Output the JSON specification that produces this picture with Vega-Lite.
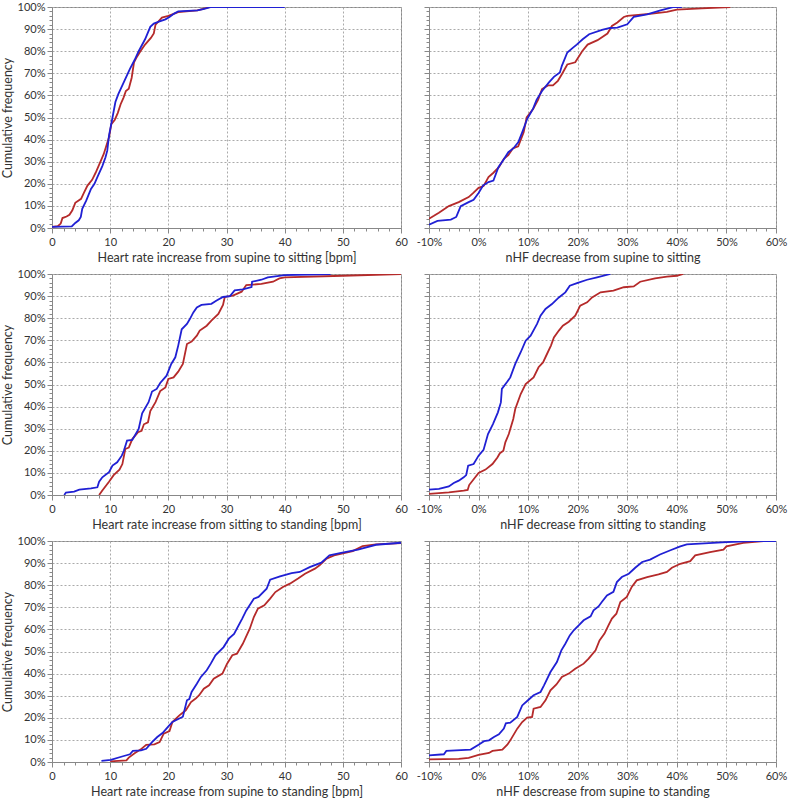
{
  "$schema": "https://vega.github.io/schema/vega-lite/v6.json",
  "padding": {"left": 0, "top": 0, "right": 5, "bottom": 5},
  "background": "white",
  "bounds": "flush",
  "spacing": {"row": 46, "column": 28},
  "columns": 2,
  "config": {
    "view": {"stroke": "#888888", "strokeWidth": 1},
    "axis": {
      "labelFont": "Lato", "titleFont": "Lato", "labelFontSize": 11, "titleFontSize": 12.5,
      "titleFontWeight": "normal", "labelColor": "#333333", "titleColor": "#333333",
      "domainColor": "#888888", "tickColor": "#888888", "gridColor": "#aaaaaa", "gridDash": [2, 2],
      "labelFlush": false, "labelOverlap": false
    },
    "line": {"strokeWidth": 1.8}
  },
  "datasets": {
    "p1": [
      {"s":"r","x":0,"y":0.5},{"s":"r","x":1,"y":0.8},{"s":"r","x":1.5,"y":2},{"s":"r","x":1.8,"y":4.5},{"s":"r","x":2.5,"y":5.2},{"s":"r","x":3,"y":6},{"s":"r","x":3.5,"y":8},{"s":"r","x":4,"y":11.4},{"s":"r","x":5,"y":13.2},{"s":"r","x":5.5,"y":16},{"s":"r","x":6.1,"y":19.2},{"s":"r","x":6.9,"y":21.8},{"s":"r","x":7.5,"y":25},{"s":"r","x":8,"y":28},{"s":"r","x":8.9,"y":33.5},{"s":"r","x":9.8,"y":41},{"s":"r","x":10.2,"y":47},{"s":"r","x":10.8,"y":49},{"s":"r","x":11.3,"y":52},{"s":"r","x":11.8,"y":56},{"s":"r","x":12.3,"y":59},{"s":"r","x":12.7,"y":62},{"s":"r","x":13.2,"y":63},{"s":"r","x":13.7,"y":68},{"s":"r","x":14.1,"y":75},{"s":"r","x":14.5,"y":77},{"s":"r","x":15.2,"y":80},{"s":"r","x":16,"y":83},{"s":"r","x":17,"y":86},{"s":"r","x":17.5,"y":88},{"s":"r","x":17.8,"y":92},{"s":"r","x":18.9,"y":95.2},{"s":"r","x":20,"y":96},{"s":"r","x":21.7,"y":97.7},{"s":"r","x":25,"y":98.5},{"s":"r","x":27.2,"y":100},{"s":"r","x":29,"y":100},
      {"s":"b","x":0,"y":0.5},{"s":"b","x":3.4,"y":0.7},{"s":"b","x":4,"y":2.3},{"s":"b","x":4.6,"y":3.5},{"s":"b","x":4.95,"y":5},{"s":"b","x":5.2,"y":8.7},{"s":"b","x":5.9,"y":12.5},{"s":"b","x":6.7,"y":17.7},{"s":"b","x":7.3,"y":20},{"s":"b","x":7.8,"y":23},{"s":"b","x":8.65,"y":28},{"s":"b","x":9.2,"y":32},{"s":"b","x":9.5,"y":35},{"s":"b","x":9.8,"y":41.8},{"s":"b","x":10.4,"y":50},{"s":"b","x":10.9,"y":57},{"s":"b","x":11.4,"y":60.6},{"s":"b","x":12.35,"y":66},{"s":"b","x":13.4,"y":72},{"s":"b","x":14.2,"y":76},{"s":"b","x":14.9,"y":80},{"s":"b","x":16,"y":85.4},{"s":"b","x":16.9,"y":91},{"s":"b","x":17.5,"y":92.5},{"s":"b","x":18.5,"y":93.5},{"s":"b","x":19.5,"y":94.4},{"s":"b","x":20.2,"y":95.5},{"s":"b","x":21,"y":97},{"s":"b","x":21.7,"y":98},{"s":"b","x":25,"y":98.5},{"s":"b","x":26,"y":99},{"s":"b","x":27.4,"y":100},{"s":"b","x":40,"y":100}
    ],
    "p2": [
      {"s":"r","x":-10,"y":4.2},{"s":"r","x":-9,"y":5.5},{"s":"r","x":-8,"y":6.9},{"s":"r","x":-6,"y":9.9},{"s":"r","x":-4,"y":11.7},{"s":"r","x":-2,"y":14},{"s":"r","x":-1,"y":16},{"s":"r","x":0,"y":18.2},{"s":"r","x":1,"y":19},{"s":"r","x":1.5,"y":21},{"s":"r","x":2,"y":23},{"s":"r","x":3,"y":25},{"s":"r","x":4.1,"y":27.5},{"s":"r","x":5.1,"y":31.3},{"s":"r","x":6,"y":33},{"s":"r","x":6.9,"y":36},{"s":"r","x":8,"y":37},{"s":"r","x":9.1,"y":43.3},{"s":"r","x":9.7,"y":50},{"s":"r","x":11,"y":53.8},{"s":"r","x":12,"y":58},{"s":"r","x":12.8,"y":62.9},{"s":"r","x":14,"y":64.5},{"s":"r","x":15,"y":64.5},{"s":"r","x":16,"y":66.6},{"s":"r","x":16.8,"y":69.6},{"s":"r","x":17.9,"y":74},{"s":"r","x":19.5,"y":75},{"s":"r","x":20.9,"y":80},{"s":"r","x":22,"y":83},{"s":"r","x":24,"y":85},{"s":"r","x":26,"y":88},{"s":"r","x":26.9,"y":91.4},{"s":"r","x":28,"y":93},{"s":"r","x":29.3,"y":95.5},{"s":"r","x":30,"y":96},{"s":"r","x":35,"y":97},{"s":"r","x":38,"y":97.8},{"s":"r","x":40,"y":98.8},{"s":"r","x":45,"y":99.4},{"s":"r","x":50.8,"y":100},
      {"s":"b","x":-10,"y":1.5},{"s":"b","x":-8.3,"y":3.2},{"s":"b","x":-5.6,"y":3.8},{"s":"b","x":-4.5,"y":5},{"s":"b","x":-3.6,"y":9.9},{"s":"b","x":-2,"y":11.7},{"s":"b","x":-1,"y":12.8},{"s":"b","x":0,"y":15.8},{"s":"b","x":0.9,"y":19.2},{"s":"b","x":2,"y":20.8},{"s":"b","x":3,"y":21.5},{"s":"b","x":4,"y":27.5},{"s":"b","x":5,"y":30.8},{"s":"b","x":6,"y":34.3},{"s":"b","x":7,"y":36},{"s":"b","x":8,"y":38.8},{"s":"b","x":8.8,"y":43.3},{"s":"b","x":9.8,"y":49.3},{"s":"b","x":11,"y":54},{"s":"b","x":11.7,"y":58},{"s":"b","x":12.8,"y":62},{"s":"b","x":14.2,"y":65.9},{"s":"b","x":15.2,"y":68.4},{"s":"b","x":16.4,"y":70.4},{"s":"b","x":16.8,"y":73.4},{"s":"b","x":17.9,"y":79.4},{"s":"b","x":19,"y":81.5},{"s":"b","x":19.8,"y":83},{"s":"b","x":21,"y":85.4},{"s":"b","x":22.3,"y":87.7},{"s":"b","x":24.9,"y":89.6},{"s":"b","x":26.5,"y":90.5},{"s":"b","x":28,"y":90.7},{"s":"b","x":30,"y":92.2},{"s":"b","x":31.3,"y":95.5},{"s":"b","x":34,"y":96.7},{"s":"b","x":36.7,"y":98.5},{"s":"b","x":39.4,"y":100},{"s":"b","x":41,"y":100}
    ],
    "p3": [
      {"s":"r","x":8.1,"y":0},{"s":"r","x":8.65,"y":2},{"s":"r","x":9.8,"y":6},{"s":"r","x":10.6,"y":9},{"s":"r","x":11.6,"y":11.5},{"s":"r","x":12.1,"y":14},{"s":"r","x":12.6,"y":20.8},{"s":"r","x":13.2,"y":21.5},{"s":"r","x":13.8,"y":25.3},{"s":"r","x":14.8,"y":28.4},{"s":"r","x":15.4,"y":29},{"s":"r","x":15.8,"y":32},{"s":"r","x":16.5,"y":32.9},{"s":"r","x":16.9,"y":38},{"s":"r","x":17.8,"y":42},{"s":"r","x":18.6,"y":47},{"s":"r","x":19.5,"y":48.7},{"s":"r","x":20,"y":52.5},{"s":"r","x":20.9,"y":53.2},{"s":"r","x":21.7,"y":55.8},{"s":"r","x":22.5,"y":59.3},{"s":"r","x":23.2,"y":68.3},{"s":"r","x":24,"y":69.4},{"s":"r","x":24.9,"y":72.1},{"s":"r","x":25.4,"y":74.4},{"s":"r","x":26.6,"y":76.6},{"s":"r","x":27.4,"y":78.9},{"s":"r","x":28.6,"y":81.9},{"s":"r","x":29.4,"y":86},{"s":"r","x":29.7,"y":89.6},{"s":"r","x":31.1,"y":90.2},{"s":"r","x":32.6,"y":92},{"s":"r","x":33.4,"y":95},{"s":"r","x":36,"y":95.5},{"s":"r","x":38,"y":96.5},{"s":"r","x":39.1,"y":98},{"s":"r","x":40,"y":98.5},{"s":"r","x":50,"y":99.2},{"s":"r","x":60,"y":100},
      {"s":"b","x":2.1,"y":0},{"s":"b","x":2.4,"y":1.1},{"s":"b","x":3.8,"y":1.5},{"s":"b","x":4.7,"y":2.4},{"s":"b","x":6.7,"y":3},{"s":"b","x":7.8,"y":3.5},{"s":"b","x":8.1,"y":6},{"s":"b","x":8.65,"y":8},{"s":"b","x":9.8,"y":10.3},{"s":"b","x":10.4,"y":13.3},{"s":"b","x":11.2,"y":14.8},{"s":"b","x":12,"y":17.8},{"s":"b","x":12.35,"y":20},{"s":"b","x":12.9,"y":24.6},{"s":"b","x":13.8,"y":24.9},{"s":"b","x":14.9,"y":29.9},{"s":"b","x":15.5,"y":37},{"s":"b","x":16.6,"y":42},{"s":"b","x":17.2,"y":46.8},{"s":"b","x":18,"y":48},{"s":"b","x":18.6,"y":50.7},{"s":"b","x":19.7,"y":54},{"s":"b","x":20.5,"y":59.3},{"s":"b","x":21.2,"y":62.3},{"s":"b","x":21.7,"y":67.6},{"s":"b","x":22.3,"y":75},{"s":"b","x":23.2,"y":77.4},{"s":"b","x":23.7,"y":79.6},{"s":"b","x":24.3,"y":82.6},{"s":"b","x":24.9,"y":84.9},{"s":"b","x":25.7,"y":86},{"s":"b","x":27.4,"y":86.5},{"s":"b","x":28.3,"y":88},{"s":"b","x":29.4,"y":89.6},{"s":"b","x":30.6,"y":90},{"s":"b","x":31.4,"y":92.6},{"s":"b","x":32.8,"y":93},{"s":"b","x":34.3,"y":94.1},{"s":"b","x":34.4,"y":96.5},{"s":"b","x":36,"y":97.4},{"s":"b","x":37.1,"y":98.5},{"s":"b","x":40,"y":99.5},{"s":"b","x":47.9,"y":100}
    ],
    "p4": [
      {"s":"r","x":-10,"y":0.5},{"s":"r","x":-6,"y":1.2},{"s":"r","x":-3,"y":2},{"s":"r","x":-2.2,"y":2.3},{"s":"r","x":-1.9,"y":4.5},{"s":"r","x":0,"y":10},{"s":"r","x":1.4,"y":11.5},{"s":"r","x":2.8,"y":14},{"s":"r","x":3.8,"y":17},{"s":"r","x":4.3,"y":18.9},{"s":"r","x":5,"y":20},{"s":"r","x":5.4,"y":23.8},{"s":"r","x":6.1,"y":27.6},{"s":"r","x":7,"y":34.4},{"s":"r","x":7.4,"y":38.9},{"s":"r","x":8.5,"y":45.7},{"s":"r","x":9.5,"y":50.2},{"s":"r","x":11.1,"y":53.2},{"s":"r","x":12.1,"y":57.8},{"s":"r","x":13,"y":60},{"s":"r","x":13.8,"y":63.8},{"s":"r","x":14.6,"y":67.6},{"s":"r","x":15.2,"y":71.3},{"s":"r","x":16.2,"y":74.4},{"s":"r","x":17,"y":76.6},{"s":"r","x":18.2,"y":78.4},{"s":"r","x":19.5,"y":81.1},{"s":"r","x":20.5,"y":85.7},{"s":"r","x":21.9,"y":87.2},{"s":"r","x":22.9,"y":89.4},{"s":"r","x":24.6,"y":91.7},{"s":"r","x":27.2,"y":92.5},{"s":"r","x":29.3,"y":94},{"s":"r","x":31.3,"y":94.4},{"s":"r","x":32.6,"y":96.5},{"s":"r","x":35.6,"y":98},{"s":"r","x":38,"y":98.8},{"s":"r","x":40,"y":99.2},{"s":"r","x":41.3,"y":100},
      {"s":"b","x":-10,"y":2.4},{"s":"b","x":-8,"y":2.8},{"s":"b","x":-6,"y":3.9},{"s":"b","x":-5,"y":5.4},{"s":"b","x":-4,"y":6.5},{"s":"b","x":-3,"y":8},{"s":"b","x":-2.5,"y":9},{"s":"b","x":-2.1,"y":13.3},{"s":"b","x":-1,"y":14},{"s":"b","x":0,"y":17.8},{"s":"b","x":1,"y":20.4},{"s":"b","x":1.9,"y":27.6},{"s":"b","x":2.9,"y":32.1},{"s":"b","x":3.9,"y":37.4},{"s":"b","x":4.5,"y":41.9},{"s":"b","x":4.7,"y":48},{"s":"b","x":5.7,"y":51},{"s":"b","x":6.4,"y":53.2},{"s":"b","x":7.4,"y":59.3},{"s":"b","x":8.5,"y":64.6},{"s":"b","x":9.5,"y":69.8},{"s":"b","x":10.5,"y":72.1},{"s":"b","x":11.8,"y":77.4},{"s":"b","x":12.5,"y":81.1},{"s":"b","x":13.5,"y":84.2},{"s":"b","x":14.8,"y":86.4},{"s":"b","x":16.2,"y":89.4},{"s":"b","x":17.5,"y":91.7},{"s":"b","x":18.4,"y":94.7},{"s":"b","x":20,"y":96},{"s":"b","x":21.9,"y":97.4},{"s":"b","x":23.9,"y":98.5},{"s":"b","x":26.6,"y":100}
    ],
    "p5": [
      {"s":"r","x":10,"y":0.3},{"s":"r","x":12.8,"y":0.75},{"s":"r","x":13.2,"y":2},{"s":"r","x":14.2,"y":4},{"s":"r","x":15.2,"y":5.6},{"s":"r","x":16.2,"y":7.8},{"s":"r","x":17.6,"y":8},{"s":"r","x":18.5,"y":9},{"s":"r","x":19.2,"y":12.8},{"s":"r","x":20.2,"y":14},{"s":"r","x":20.7,"y":18.1},{"s":"r","x":21.9,"y":21.1},{"s":"r","x":23,"y":23.4},{"s":"r","x":23.9,"y":27.1},{"s":"r","x":24.7,"y":28.7},{"s":"r","x":25.3,"y":30.2},{"s":"r","x":26.1,"y":33.2},{"s":"r","x":27,"y":34.7},{"s":"r","x":27.8,"y":37.7},{"s":"r","x":29.3,"y":40},{"s":"r","x":30.1,"y":44.5},{"s":"r","x":31,"y":48.3},{"s":"r","x":31.8,"y":49},{"s":"r","x":32.8,"y":53.5},{"s":"r","x":34,"y":60.3},{"s":"r","x":34.7,"y":65.6},{"s":"r","x":35.4,"y":69.4},{"s":"r","x":36.5,"y":70.9},{"s":"r","x":37.5,"y":73.9},{"s":"r","x":38.4,"y":76.9},{"s":"r","x":39.7,"y":79.2},{"s":"r","x":40.9,"y":80.7},{"s":"r","x":42.3,"y":83},{"s":"r","x":43.5,"y":85.2},{"s":"r","x":45.2,"y":87.5},{"s":"r","x":46,"y":89},{"s":"r","x":47.2,"y":92},{"s":"r","x":48.5,"y":93.5},{"s":"r","x":51.7,"y":95.4},{"s":"r","x":53.4,"y":97.7},{"s":"r","x":55.7,"y":98.5},{"s":"r","x":60,"y":99},
      {"s":"b","x":8.5,"y":0.5},{"s":"b","x":10.1,"y":1},{"s":"b","x":12.2,"y":2.6},{"s":"b","x":13.4,"y":3.5},{"s":"b","x":13.9,"y":5},{"s":"b","x":15.3,"y":5.3},{"s":"b","x":16.2,"y":6},{"s":"b","x":17.2,"y":9},{"s":"b","x":18.1,"y":11.3},{"s":"b","x":19,"y":13.1},{"s":"b","x":19.9,"y":15.8},{"s":"b","x":20.7,"y":18.1},{"s":"b","x":21.8,"y":19.6},{"s":"b","x":22.5,"y":20.5},{"s":"b","x":23.2,"y":27.9},{"s":"b","x":23.6,"y":28.5},{"s":"b","x":24,"y":31.7},{"s":"b","x":24.9,"y":35.4},{"s":"b","x":25.6,"y":38.5},{"s":"b","x":26.6,"y":41.5},{"s":"b","x":27.3,"y":44.5},{"s":"b","x":28.1,"y":48.3},{"s":"b","x":29.5,"y":52},{"s":"b","x":30.4,"y":55.8},{"s":"b","x":31.3,"y":58},{"s":"b","x":32.7,"y":64.9},{"s":"b","x":33.4,"y":68.6},{"s":"b","x":34.7,"y":73.9},{"s":"b","x":35.5,"y":74.7},{"s":"b","x":36.9,"y":78.4},{"s":"b","x":37.5,"y":82.5},{"s":"b","x":39.2,"y":84},{"s":"b","x":41.2,"y":85.5},{"s":"b","x":42.6,"y":86},{"s":"b","x":44.3,"y":88.2},{"s":"b","x":46.3,"y":90.2},{"s":"b","x":47.7,"y":93.5},{"s":"b","x":49.7,"y":94.6},{"s":"b","x":52.6,"y":96.1},{"s":"b","x":55.7,"y":98.3},{"s":"b","x":60,"y":99.2}
    ],
    "p6": [
      {"s":"r","x":-10,"y":1.2},{"s":"r","x":-4,"y":1.4},{"s":"r","x":-2,"y":1.9},{"s":"r","x":0,"y":3.2},{"s":"r","x":2.1,"y":4.1},{"s":"r","x":2.8,"y":5},{"s":"r","x":4.8,"y":5.6},{"s":"r","x":5.8,"y":7.8},{"s":"r","x":6.4,"y":9.8},{"s":"r","x":7.8,"y":15.1},{"s":"r","x":8.8,"y":18.1},{"s":"r","x":9.8,"y":20.1},{"s":"r","x":10.8,"y":20.4},{"s":"r","x":11.1,"y":24.1},{"s":"r","x":12.5,"y":24.9},{"s":"r","x":13.5,"y":27.9},{"s":"r","x":14.5,"y":32.4},{"s":"r","x":15.7,"y":35.1},{"s":"r","x":16.8,"y":38.5},{"s":"r","x":18.2,"y":40},{"s":"r","x":19.5,"y":42.2},{"s":"r","x":21.2,"y":44.5},{"s":"r","x":22.2,"y":46.8},{"s":"r","x":23.6,"y":50.5},{"s":"r","x":24.4,"y":55},{"s":"r","x":25.4,"y":58.1},{"s":"r","x":26.2,"y":61.8},{"s":"r","x":26.9,"y":64.9},{"s":"r","x":27.8,"y":67.1},{"s":"r","x":28.6,"y":72.4},{"s":"r","x":29.9,"y":74.7},{"s":"r","x":30.9,"y":79.2},{"s":"r","x":31.9,"y":82.2},{"s":"r","x":34,"y":83.7},{"s":"r","x":36.3,"y":84.9},{"s":"r","x":38,"y":86},{"s":"r","x":39,"y":87.9},{"s":"r","x":40.7,"y":89.7},{"s":"r","x":42.7,"y":90.9},{"s":"r","x":43.7,"y":93.5},{"s":"r","x":46.7,"y":95},{"s":"r","x":49.4,"y":96.1},{"s":"r","x":50,"y":97.6},{"s":"r","x":53.4,"y":99.2},{"s":"r","x":57.5,"y":100},{"s":"r","x":60,"y":100},
      {"s":"b","x":-10,"y":3},{"s":"b","x":-7,"y":3.5},{"s":"b","x":-6.5,"y":5},{"s":"b","x":-1.6,"y":5.6},{"s":"b","x":0,"y":7.8},{"s":"b","x":1.1,"y":9.4},{"s":"b","x":2.1,"y":9.8},{"s":"b","x":3.1,"y":11.3},{"s":"b","x":4.1,"y":12.5},{"s":"b","x":5.1,"y":15.1},{"s":"b","x":5.5,"y":17.5},{"s":"b","x":6.4,"y":17.8},{"s":"b","x":7.8,"y":20.4},{"s":"b","x":8.8,"y":25.6},{"s":"b","x":9.8,"y":27.6},{"s":"b","x":11.1,"y":30.2},{"s":"b","x":12.5,"y":31.7},{"s":"b","x":13.2,"y":34.7},{"s":"b","x":14.5,"y":40.7},{"s":"b","x":15.8,"y":45.2},{"s":"b","x":16.7,"y":50.5},{"s":"b","x":17.5,"y":53.5},{"s":"b","x":18.4,"y":57.3},{"s":"b","x":19.2,"y":59.6},{"s":"b","x":20.2,"y":61.8},{"s":"b","x":21.2,"y":64.1},{"s":"b","x":22.6,"y":65.9},{"s":"b","x":23.2,"y":68.6},{"s":"b","x":24.2,"y":70.4},{"s":"b","x":24.9,"y":72.5},{"s":"b","x":25.9,"y":75.4},{"s":"b","x":27.2,"y":77},{"s":"b","x":27.9,"y":81.4},{"s":"b","x":28.9,"y":83.7},{"s":"b","x":30.3,"y":85.2},{"s":"b","x":31.6,"y":87.9},{"s":"b","x":33,"y":90.5},{"s":"b","x":34.6,"y":91.6},{"s":"b","x":36.6,"y":93.9},{"s":"b","x":38.7,"y":95.8},{"s":"b","x":40.7,"y":97.6},{"s":"b","x":42,"y":98.5},{"s":"b","x":50,"y":99.5},{"s":"b","x":55.4,"y":100},{"s":"b","x":60,"y":100}
    ]
  },
  "concat": [
    {
      "width": 349, "height": 221, "data": {"name": "p1"},
      "resolve": {"axis": {"x": "independent", "y": "independent"}},
      "layer": [
        {"transform": [{"filter": "datum.s === 'r'"}], "mark": {"type": "line", "color": "#b52a2a", "clip": true},
         "encoding": {
           "x": {"field": "x", "type": "quantitative", "scale": {"domain": [0, 60], "nice": false, "zero": false}, "axis": {"title": "Heart rate increase from supine to sitting [bpm]", "values": [0,10,20,30,40,50,60], "grid": true, "tickSize": 5, "labelPadding": 3, "titlePadding": 4}},
           "y": {"field": "y", "type": "quantitative", "scale": {"domain": [0, 100], "nice": false}, "axis": {"title": "Cumulative frequency", "values": [0,10,20,30,40,50,60,70,80,90,100], "labelExpr": "datum.value + '%'", "grid": true, "tickSize": 5, "titlePadding": 3}},
           "order": {"field": "x", "type": "quantitative"}}},
        {"transform": [{"filter": "datum.s === 'b'"}], "mark": {"type": "line", "color": "#2020d4", "clip": true},
         "encoding": {
           "x": {"field": "x", "type": "quantitative", "axis": {"orient": "bottom", "title": null, "labels": false, "grid": false, "domain": false, "tickSize": 3, "values": [2,4,6,8,12,14,16,18,22,24,26,28,32,34,36,38,42,44,46,48,52,54,56,58]}},
           "y": {"field": "y", "type": "quantitative", "axis": {"orient": "left", "title": null, "labels": false, "grid": false, "domain": false, "tickSize": 3, "values": [2,4,6,8,12,14,16,18,22,24,26,28,32,34,36,38,42,44,46,48,52,54,56,58,62,64,66,68,72,74,76,78,82,84,86,88,92,94,96,98]}},
           "order": {"field": "x", "type": "quantitative"}}}
      ]
    },
    {
      "width": 347, "height": 221, "data": {"name": "p2"},
      "resolve": {"axis": {"x": "independent", "y": "independent"}},
      "layer": [
        {"transform": [{"filter": "datum.s === 'r'"}], "mark": {"type": "line", "color": "#b52a2a", "clip": true},
         "encoding": {
           "x": {"field": "x", "type": "quantitative", "scale": {"domain": [-10, 60], "nice": false, "zero": false}, "axis": {"title": "nHF decrease from supine to sitting", "values": [-10,0,10,20,30,40,50,60], "labelExpr": "datum.value + '%'", "grid": true, "tickSize": 5, "labelPadding": 3, "titlePadding": 4}},
           "y": {"field": "y", "type": "quantitative", "scale": {"domain": [0, 100], "nice": false}, "axis": {"title": null, "labels": false, "values": [0,10,20,30,40,50,60,70,80,90,100], "grid": true, "tickSize": 5}},
           "order": {"field": "x", "type": "quantitative"}}},
        {"transform": [{"filter": "datum.s === 'b'"}], "mark": {"type": "line", "color": "#2020d4", "clip": true},
         "encoding": {
           "x": {"field": "x", "type": "quantitative", "axis": {"orient": "bottom", "title": null, "labels": false, "grid": false, "domain": false, "tickSize": 3, "values": [-8,-6,-4,-2,2,4,6,8,12,14,16,18,22,24,26,28,32,34,36,38,42,44,46,48,52,54,56,58]}},
           "y": {"field": "y", "type": "quantitative", "axis": {"orient": "left", "title": null, "labels": false, "grid": false, "domain": false, "tickSize": 3, "values": [2,4,6,8,12,14,16,18,22,24,26,28,32,34,36,38,42,44,46,48,52,54,56,58,62,64,66,68,72,74,76,78,82,84,86,88,92,94,96,98]}},
           "order": {"field": "x", "type": "quantitative"}}}
      ]
    },
    {
      "width": 349, "height": 221, "data": {"name": "p3"},
      "resolve": {"axis": {"x": "independent", "y": "independent"}},
      "layer": [
        {"transform": [{"filter": "datum.s === 'r'"}], "mark": {"type": "line", "color": "#b52a2a", "clip": true},
         "encoding": {
           "x": {"field": "x", "type": "quantitative", "scale": {"domain": [0, 60], "nice": false, "zero": false}, "axis": {"title": "Heart rate increase from sitting to standing [bpm]", "values": [0,10,20,30,40,50,60], "grid": true, "tickSize": 5, "labelPadding": 3, "titlePadding": 4}},
           "y": {"field": "y", "type": "quantitative", "scale": {"domain": [0, 100], "nice": false}, "axis": {"title": "Cumulative frequency", "values": [0,10,20,30,40,50,60,70,80,90,100], "labelExpr": "datum.value + '%'", "grid": true, "tickSize": 5, "titlePadding": 3}},
           "order": {"field": "x", "type": "quantitative"}}},
        {"transform": [{"filter": "datum.s === 'b'"}], "mark": {"type": "line", "color": "#2020d4", "clip": true},
         "encoding": {
           "x": {"field": "x", "type": "quantitative", "axis": {"orient": "bottom", "title": null, "labels": false, "grid": false, "domain": false, "tickSize": 3, "values": [2,4,6,8,12,14,16,18,22,24,26,28,32,34,36,38,42,44,46,48,52,54,56,58]}},
           "y": {"field": "y", "type": "quantitative", "axis": {"orient": "left", "title": null, "labels": false, "grid": false, "domain": false, "tickSize": 3, "values": [2,4,6,8,12,14,16,18,22,24,26,28,32,34,36,38,42,44,46,48,52,54,56,58,62,64,66,68,72,74,76,78,82,84,86,88,92,94,96,98]}},
           "order": {"field": "x", "type": "quantitative"}}}
      ]
    },
    {
      "width": 347, "height": 221, "data": {"name": "p4"},
      "resolve": {"axis": {"x": "independent", "y": "independent"}},
      "layer": [
        {"transform": [{"filter": "datum.s === 'r'"}], "mark": {"type": "line", "color": "#b52a2a", "clip": true},
         "encoding": {
           "x": {"field": "x", "type": "quantitative", "scale": {"domain": [-10, 60], "nice": false, "zero": false}, "axis": {"title": "nHF decrease from sitting to standing", "values": [-10,0,10,20,30,40,50,60], "labelExpr": "datum.value + '%'", "grid": true, "tickSize": 5, "labelPadding": 3, "titlePadding": 4}},
           "y": {"field": "y", "type": "quantitative", "scale": {"domain": [0, 100], "nice": false}, "axis": {"title": null, "labels": false, "values": [0,10,20,30,40,50,60,70,80,90,100], "grid": true, "tickSize": 5}},
           "order": {"field": "x", "type": "quantitative"}}},
        {"transform": [{"filter": "datum.s === 'b'"}], "mark": {"type": "line", "color": "#2020d4", "clip": true},
         "encoding": {
           "x": {"field": "x", "type": "quantitative", "axis": {"orient": "bottom", "title": null, "labels": false, "grid": false, "domain": false, "tickSize": 3, "values": [-8,-6,-4,-2,2,4,6,8,12,14,16,18,22,24,26,28,32,34,36,38,42,44,46,48,52,54,56,58]}},
           "y": {"field": "y", "type": "quantitative", "axis": {"orient": "left", "title": null, "labels": false, "grid": false, "domain": false, "tickSize": 3, "values": [2,4,6,8,12,14,16,18,22,24,26,28,32,34,36,38,42,44,46,48,52,54,56,58,62,64,66,68,72,74,76,78,82,84,86,88,92,94,96,98]}},
           "order": {"field": "x", "type": "quantitative"}}}
      ]
    },
    {
      "width": 349, "height": 221, "data": {"name": "p5"},
      "resolve": {"axis": {"x": "independent", "y": "independent"}},
      "layer": [
        {"transform": [{"filter": "datum.s === 'r'"}], "mark": {"type": "line", "color": "#b52a2a", "clip": true},
         "encoding": {
           "x": {"field": "x", "type": "quantitative", "scale": {"domain": [0, 60], "nice": false, "zero": false}, "axis": {"title": "Heart rate increase from supine to standing [bpm]", "values": [0,10,20,30,40,50,60], "grid": true, "tickSize": 5, "labelPadding": 3, "titlePadding": 4}},
           "y": {"field": "y", "type": "quantitative", "scale": {"domain": [0, 100], "nice": false}, "axis": {"title": "Cumulative frequency", "values": [0,10,20,30,40,50,60,70,80,90,100], "labelExpr": "datum.value + '%'", "grid": true, "tickSize": 5, "titlePadding": 3}},
           "order": {"field": "x", "type": "quantitative"}}},
        {"transform": [{"filter": "datum.s === 'b'"}], "mark": {"type": "line", "color": "#2020d4", "clip": true},
         "encoding": {
           "x": {"field": "x", "type": "quantitative", "axis": {"orient": "bottom", "title": null, "labels": false, "grid": false, "domain": false, "tickSize": 3, "values": [2,4,6,8,12,14,16,18,22,24,26,28,32,34,36,38,42,44,46,48,52,54,56,58]}},
           "y": {"field": "y", "type": "quantitative", "axis": {"orient": "left", "title": null, "labels": false, "grid": false, "domain": false, "tickSize": 3, "values": [2,4,6,8,12,14,16,18,22,24,26,28,32,34,36,38,42,44,46,48,52,54,56,58,62,64,66,68,72,74,76,78,82,84,86,88,92,94,96,98]}},
           "order": {"field": "x", "type": "quantitative"}}}
      ]
    },
    {
      "width": 347, "height": 221, "data": {"name": "p6"},
      "resolve": {"axis": {"x": "independent", "y": "independent"}},
      "layer": [
        {"transform": [{"filter": "datum.s === 'r'"}], "mark": {"type": "line", "color": "#b52a2a", "clip": true},
         "encoding": {
           "x": {"field": "x", "type": "quantitative", "scale": {"domain": [-10, 60], "nice": false, "zero": false}, "axis": {"title": "nHF descrease from supine to standing", "values": [-10,0,10,20,30,40,50,60], "labelExpr": "datum.value + '%'", "grid": true, "tickSize": 5, "labelPadding": 3, "titlePadding": 4}},
           "y": {"field": "y", "type": "quantitative", "scale": {"domain": [0, 100], "nice": false}, "axis": {"title": null, "labels": false, "values": [0,10,20,30,40,50,60,70,80,90,100], "grid": true, "tickSize": 5}},
           "order": {"field": "x", "type": "quantitative"}}},
        {"transform": [{"filter": "datum.s === 'b'"}], "mark": {"type": "line", "color": "#2020d4", "clip": true},
         "encoding": {
           "x": {"field": "x", "type": "quantitative", "axis": {"orient": "bottom", "title": null, "labels": false, "grid": false, "domain": false, "tickSize": 3, "values": [-8,-6,-4,-2,2,4,6,8,12,14,16,18,22,24,26,28,32,34,36,38,42,44,46,48,52,54,56,58]}},
           "y": {"field": "y", "type": "quantitative", "axis": {"orient": "left", "title": null, "labels": false, "grid": false, "domain": false, "tickSize": 3, "values": [2,4,6,8,12,14,16,18,22,24,26,28,32,34,36,38,42,44,46,48,52,54,56,58,62,64,66,68,72,74,76,78,82,84,86,88,92,94,96,98]}},
           "order": {"field": "x", "type": "quantitative"}}}
      ]
    }
  ]
}
